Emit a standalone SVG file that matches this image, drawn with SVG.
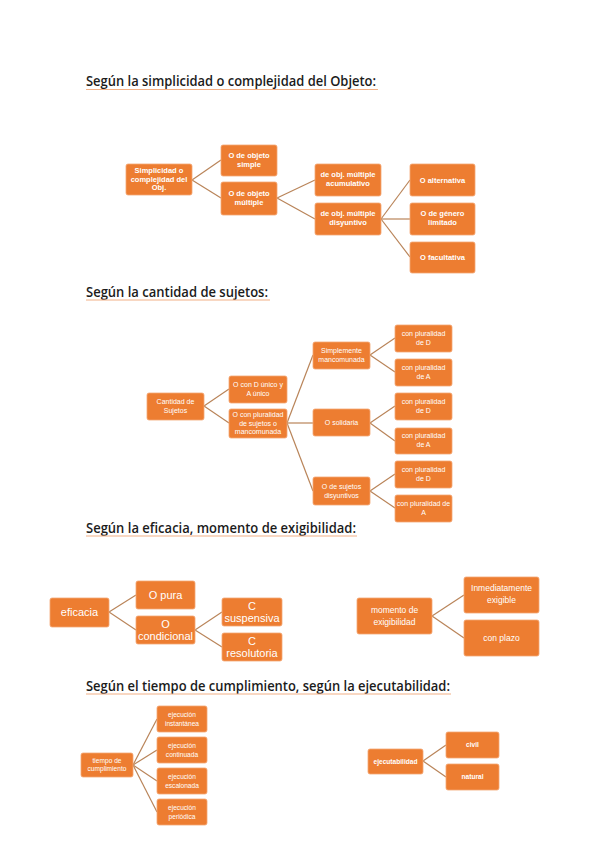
<svg xmlns="http://www.w3.org/2000/svg" width="599" height="848" viewBox="0 0 599 848">
<style>
.h{font-family:"Open Sans","Liberation Sans",sans-serif;font-size:14px;font-weight:600;fill:#1b1b1b}
.ul{stroke:#F2B086;stroke-width:1.2}
.b rect{fill:#ED7D31;stroke:#F4A775;stroke-width:0.8}
.b text{font-family:"Liberation Sans",sans-serif;fill:#fff;text-anchor:middle}
.t1 text{font-size:7.5px;font-weight:bold}
.t2 text{font-size:7px}
.t3 text{font-size:11px}
.t3s text{font-size:8.5px}
.t4 text{font-size:6.6px}
.c line{stroke:#B98459;stroke-width:1.2}
</style>
<rect width="599" height="848" fill="#fff"/>

<g id="headers">
<text class="h" x="86" y="86" textLength="290" lengthAdjust="spacingAndGlyphs">Según la simplicidad o complejidad del Objeto:</text>
<line class="ul" x1="86" y1="89.5" x2="378" y2="89.5"/>
<text class="h" x="86" y="297" textLength="182" lengthAdjust="spacingAndGlyphs">Según la cantidad de sujetos:</text>
<line class="ul" x1="86" y1="300" x2="270" y2="300"/>
<text class="h" x="86" y="533" textLength="270" lengthAdjust="spacingAndGlyphs">Según la eficacia, momento de exigibilidad:</text>
<line class="ul" x1="86" y1="536" x2="357" y2="536"/>
<text class="h" x="86" y="691" textLength="364" lengthAdjust="spacingAndGlyphs">Según el tiempo de cumplimiento, según la ejecutabilidad:</text>
<line class="ul" x1="86" y1="694" x2="451" y2="694"/>
</g>

<g id="connectors" class="c">
<line x1="192" y1="180" x2="221" y2="160"/>
<line x1="192" y1="180" x2="221" y2="198"/>
<line x1="277" y1="198" x2="315" y2="180"/>
<line x1="277" y1="198" x2="315" y2="219"/>
<line x1="381" y1="219" x2="410" y2="180"/>
<line x1="381" y1="219" x2="410" y2="219"/>
<line x1="381" y1="219" x2="410" y2="257"/>

<line x1="204" y1="406" x2="229" y2="389"/>
<line x1="204" y1="406" x2="229" y2="423"/>
<line x1="287" y1="423" x2="313" y2="355"/>
<line x1="287" y1="423" x2="313" y2="423"/>
<line x1="287" y1="423" x2="313" y2="491"/>
<line x1="370" y1="355" x2="395" y2="338"/>
<line x1="370" y1="355" x2="395" y2="372"/>
<line x1="370" y1="423" x2="395" y2="406"/>
<line x1="370" y1="423" x2="395" y2="441"/>
<line x1="370" y1="491" x2="395" y2="474"/>
<line x1="370" y1="491" x2="395" y2="508"/>

<line x1="109" y1="612" x2="136" y2="595"/>
<line x1="109" y1="612" x2="136" y2="630"/>
<line x1="195" y1="630" x2="222" y2="612"/>
<line x1="195" y1="630" x2="222" y2="647"/>
<line x1="432" y1="616" x2="464" y2="595"/>
<line x1="432" y1="616" x2="464" y2="638"/>

<line x1="133" y1="765" x2="157" y2="719"/>
<line x1="133" y1="765" x2="157" y2="750"/>
<line x1="133" y1="765" x2="157" y2="781"/>
<line x1="133" y1="765" x2="157" y2="812"/>
<line x1="423" y1="761" x2="446" y2="745"/>
<line x1="423" y1="761" x2="446" y2="777"/>
</g>

<g class="b t1">
<g id="n-simplicidad"><rect x="126" y="164" width="66" height="31" rx="2"/><text x="159" y="173">Simplicidad o</text><text x="159" y="181.5">complejidad del</text><text x="159" y="190">Obj.</text></g>
<g id="n-simple"><rect x="221" y="145" width="56" height="31" rx="2"/><text x="249" y="158">O de objeto</text><text x="249" y="167">simple</text></g>
<g id="n-multiple"><rect x="221" y="182" width="56" height="33" rx="2"/><text x="249" y="196">O de objeto</text><text x="249" y="205">múltiple</text></g>
<g id="n-acumulativo"><rect x="315" y="164" width="66" height="32" rx="2"/><text x="348" y="177">de obj. múltiple</text><text x="348" y="186">acumulativo</text></g>
<g id="n-disyuntivo"><rect x="315" y="203" width="66" height="32" rx="2"/><text x="348" y="216">de obj. múltiple</text><text x="348" y="225">disyuntivo</text></g>
<g id="n-alternativa"><rect x="410" y="164" width="65" height="32" rx="2"/><text x="442.5" y="183">O alternativa</text></g>
<g id="n-genero"><rect x="410" y="203" width="65" height="32" rx="2"/><text x="442.5" y="216">O de género</text><text x="442.5" y="225">limitado</text></g>
<g id="n-facultativa"><rect x="410" y="242" width="65" height="31" rx="2"/><text x="442.5" y="260">O facultativa</text></g>
</g>

<g class="b t2">
<g id="n-cantidad"><rect x="147" y="393" width="57" height="27" rx="2"/><text x="175.5" y="404">Cantidad de</text><text x="175.5" y="413">Sujetos</text></g>
<g id="n-unico"><rect x="229" y="376" width="58" height="27" rx="2"/><text x="258" y="387">O con D único y</text><text x="258" y="396">A único</text></g>
<g id="n-mancomunada"><rect x="229" y="409" width="58" height="29" rx="2"/><text x="258" y="417">O con pluralidad</text><text x="258" y="425.5">de sujetos o</text><text x="258" y="434">mancomunada</text></g>
<g id="n-simplemente"><rect x="313" y="342" width="57" height="27" rx="2"/><text x="341.5" y="353">Simplemente</text><text x="341.5" y="362">mancomunada</text></g>
<g id="n-solidaria"><rect x="313" y="409" width="57" height="27" rx="2"/><text x="341.5" y="425">O solidaria</text></g>
<g id="n-sujdisy"><rect x="313" y="477" width="57" height="28" rx="2"/><text x="341.5" y="489">O de sujetos</text><text x="341.5" y="498">disyuntivos</text></g>
<g id="n-c1"><rect x="395" y="325" width="57" height="27" rx="2"/><text x="423.5" y="336">con pluralidad</text><text x="423.5" y="345">de D</text></g>
<g id="n-c2"><rect x="395" y="359" width="57" height="27" rx="2"/><text x="423.5" y="370">con pluralidad</text><text x="423.5" y="379">de A</text></g>
<g id="n-c3"><rect x="395" y="393" width="57" height="27" rx="2"/><text x="423.5" y="404">con pluralidad</text><text x="423.5" y="413">de D</text></g>
<g id="n-c4"><rect x="395" y="428" width="57" height="26" rx="2"/><text x="423.5" y="438">con pluralidad</text><text x="423.5" y="447">de A</text></g>
<g id="n-c5"><rect x="395" y="461" width="57" height="27" rx="2"/><text x="423.5" y="472">con pluralidad</text><text x="423.5" y="481">de D</text></g>
<g id="n-c6"><rect x="395" y="495" width="57" height="27" rx="2"/><text x="423.5" y="506">con pluralidad de</text><text x="423.5" y="515">A</text></g>
</g>

<g class="b t3">
<g id="n-eficacia"><rect x="50" y="598" width="59" height="29" rx="2"/><text x="79.5" y="616">eficacia</text></g>
<g id="n-pura"><rect x="136" y="581" width="59" height="28" rx="2"/><text x="165.5" y="599">O pura</text></g>
<g id="n-condicional"><rect x="136" y="616" width="59" height="28" rx="2"/><text x="165.5" y="628">O</text><text x="165.5" y="640">condicional</text></g>
<g id="n-suspensiva"><rect x="222" y="598" width="60" height="28" rx="2"/><text x="252" y="610">C</text><text x="252" y="622">suspensiva</text></g>
<g id="n-resolutoria"><rect x="222" y="633" width="60" height="28" rx="2"/><text x="252" y="645">C</text><text x="252" y="657">resolutoria</text></g>
</g>

<g class="b t3s">
<g id="n-momento"><rect x="357" y="598" width="75" height="36" rx="2"/><text x="394.5" y="613">momento de</text><text x="394.5" y="625">exigibilidad</text></g>
<g id="n-inmediata"><rect x="464" y="577" width="75" height="36" rx="2"/><text x="501.5" y="591">Inmediatamente</text><text x="501.5" y="603">exigible</text></g>
<g id="n-plazo"><rect x="464" y="620" width="75" height="36" rx="2"/><text x="501.5" y="641">con plazo</text></g>
</g>

<g class="b t4">
<g id="n-tiempo"><rect x="81" y="753" width="52" height="24" rx="2"/><text x="107" y="763">tiempo de</text><text x="107" y="771">cumplimiento</text></g>
<g id="n-e1"><rect x="157" y="706" width="50" height="26" rx="2"/><text x="182" y="717">ejecución</text><text x="182" y="725.5">instantánea</text></g>
<g id="n-e2"><rect x="157" y="737" width="50" height="26" rx="2"/><text x="182" y="748">ejecución</text><text x="182" y="756.5">continuada</text></g>
<g id="n-e3"><rect x="157" y="768" width="50" height="26" rx="2"/><text x="182" y="779">ejecución</text><text x="182" y="787.5">escalonada</text></g>
<g id="n-e4"><rect x="157" y="799" width="50" height="26" rx="2"/><text x="182" y="810">ejecución</text><text x="182" y="818.5">periódica</text></g>
<g id="n-ejecutabilidad"><rect x="368" y="749" width="55" height="25" rx="2"/><text x="395.5" y="764" font-weight="bold" font-size="7">ejecutabilidad</text></g>
<g id="n-civil"><rect x="446" y="732" width="53" height="26" rx="2"/><text x="472.5" y="747" font-weight="bold" font-size="7">civil</text></g>
<g id="n-natural"><rect x="446" y="764" width="53" height="26" rx="2"/><text x="472.5" y="779" font-weight="bold" font-size="7">natural</text></g>
</g>
</svg>
